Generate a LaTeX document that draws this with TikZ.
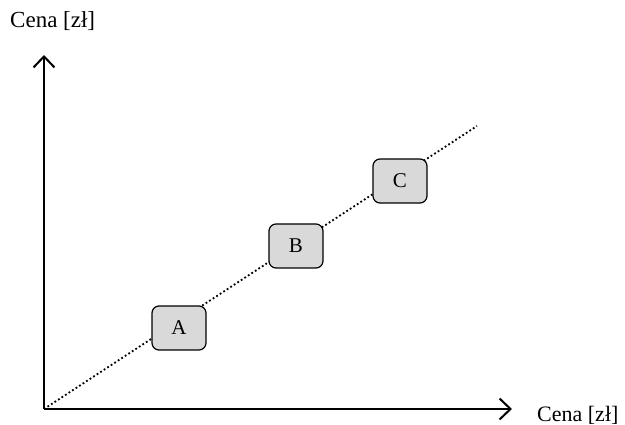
\documentclass[tikz,border=0pt]{standalone}
\usepackage{fontspec}
\setmainfont{Liberation Serif}
\usetikzlibrary{arrows.meta, positioning, backgrounds}
\definecolor{boxgray}{RGB}{217,217,217}

\begin{document}
\begin{tikzpicture}[x=1pt, y=-1pt,
    punkt/.style={draw, line width=1.2pt, rounded corners=7pt, fill=boxgray,
      minimum width=54pt, minimum height=44pt, font=\fontsize{21}{24}\selectfont},
    os/.style={line width=2pt, -{Straight Barb[length=11pt, width=21pt, line width=2pt]}},
    opis/.style={anchor=base west, inner sep=0pt, font=\fontsize{23}{26}\selectfont}]
  \useasboundingbox (0,0) rectangle (625,425);

  \coordinate (o) at (44,409);
  \coordinate (ytop) at (44,55);
  \coordinate (xend) at (512,409);
  \coordinate (kon) at (477,126);

  % prosta
  \draw[line width=1.8pt, dash pattern=on 1.8pt off 2.4pt] (o) -- (kon);

  \node[punkt] (a) at (179,328) {A};
  \node[punkt] (b) at (296,246) {B};
  \node[punkt] (c) at (400,181) {C};

  % osie
  \draw[os] (o) -- (ytop);
  \draw[os] (o) -- (xend);
  \node[opis] (ylab) at (10,28) {Cena [zł]};
  \node[opis, font=\fontsize{22}{25}\selectfont] (xlab) at (537,421) {Cena [zł]};
\end{tikzpicture}
\end{document}
